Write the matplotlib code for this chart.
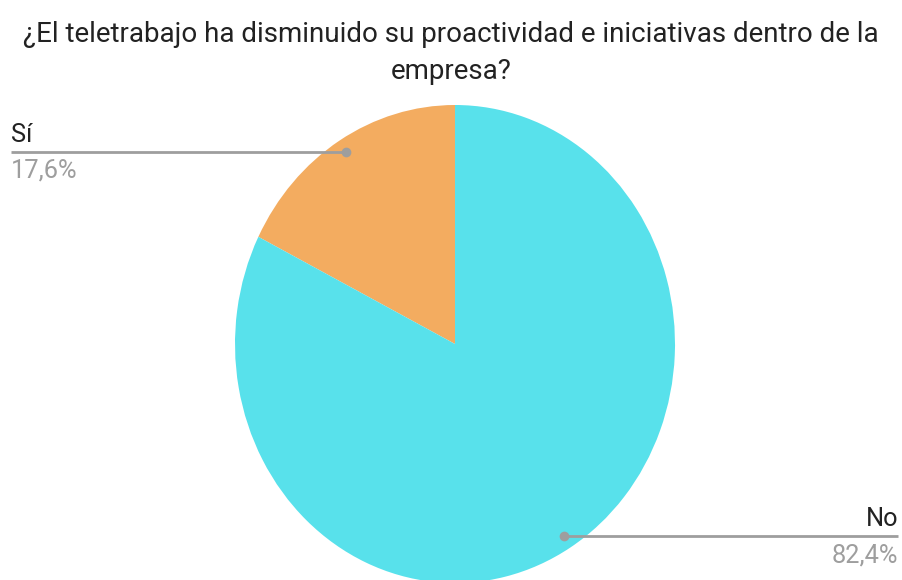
import numpy as np
import matplotlib
matplotlib.use("Agg")
import matplotlib.pyplot as plt
import matplotlib.transforms as mtransforms

plt.rcParams['font.family'] = ['Roboto', 'DejaVu Sans']

# data
labels = ["Sí", "No"]
values = [17.6, 82.4]
pct_labels = ["17,6%", "82,4%"]
colors = ["#F3AC60", "#58E1EB"]
title = "¿El teletrabajo ha disminuido su proactividad e iniciativas dentro de la\nempresa?"

W, H = 902, 580
fig = plt.figure(figsize=(W / 100, H / 100), dpi=100)
ax = fig.add_axes([0, 0, 1, 1])

# pie geometry in pixels (slightly taller than wide, like the source)
cx, cy = 455, 344
rx, ry = 220, 239

wedges, _ = ax.pie(values, colors=colors, startangle=90, counterclock=True,
                   radius=1, center=(0, 0), wedgeprops=dict(linewidth=0))
ax.set_aspect('auto')
ax.set_xlim(-cx / rx, (W - cx) / rx)
ax.set_ylim(-(H - cy) / ry, cy / ry)
ax.axis('off')

# multi-line text: baseline refers to the last line
fig.text(0.5, 1 - 79 / H, title, ha='center', va='baseline', fontsize=20.0,
         color='#222222', linespacing=1.5)

line_col = "#9E9E9E"
trans = mtransforms.blended_transform_factory(ax.transAxes, ax.transData)
for w, lab, pct in zip(wedges, labels, pct_labels):
    mid = np.deg2rad((w.theta1 + w.theta2) / 2)
    px, py = 0.945 * np.cos(mid), 0.945 * np.sin(mid)
    if px < 0:
        xe, ha = 11 / W, 'left'
    else:
        xe, ha = 898 / W, 'right'
    # leader line
    x_end_data = ax.transData.inverted().transform(
        ax.transAxes.transform((xe, 0)))[0]
    ax.plot([px, x_end_data], [py, py], color=line_col, lw=2, solid_capstyle='butt')
    ax.plot(px, py, 'o', color=line_col, ms=7, mec='none')
    ax.annotate(lab, (xe, py), xycoords=trans, xytext=(0, 10),
                textcoords='offset pixels', ha=ha, va='baseline',
                fontsize=18.3, color='#222222')
    ax.annotate(pct, (xe, py), xycoords=trans, xytext=(0, -26),
                textcoords='offset pixels', ha=ha, va='baseline',
                fontsize=18.3, color='#9E9E9E')

fig.savefig("out.png", dpi=100)
